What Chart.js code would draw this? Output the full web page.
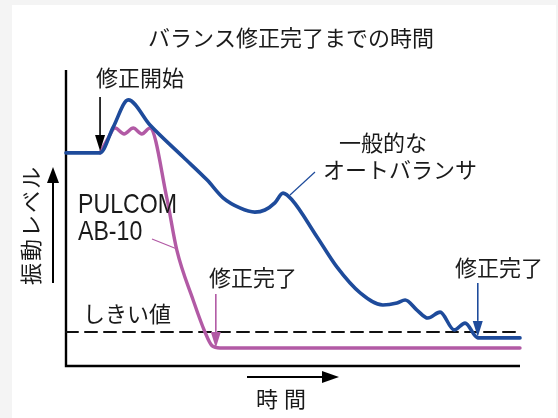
<!DOCTYPE html>
<html>
<head>
<meta charset="utf-8">
<script src="https://cdn.jsdelivr.net/npm/chart.js@4/dist/chart.umd.min.js"></script>
<style>
  html, body { margin: 0; padding: 0; background: #f4f4f4; }
  canvas { display: block; }
</style>
</head>
<body>
<canvas id="balanceChart" width="558" height="418"></canvas>
<script>
// time (0-100) and vibration level (0-100)
const autoTime  = [0, 7.5, 10.4, 13.7, 18.5, 25.8, 31.1, 34.6, 38.3, 41.6, 43.8, 46.0, 47.8, 49.8, 55.3, 59.7, 64.8, 69.8, 72.9, 74.7, 77.3, 79.7, 82.4, 85.5, 87.9, 90.7, 100];
const autoLevel = [72.0, 72.0, 80.7, 89.9, 81.4, 70.6, 62.8, 56.8, 53.4, 52.0, 52.7, 55.1, 58.4, 56.1, 43.6, 33.4, 24.7, 20.6, 21.3, 22.3, 18.9, 16.2, 18.2, 12.2, 14.5, 9.5, 9.5];

const pulcomTime  = [7.5, 9.3, 10.8, 12.8, 14.8, 16.7, 18.5, 22.2, 24.4, 28.0, 30.6, 32.2, 33.9, 100];
const pulcomLevel = [72.0, 77.0, 80.4, 78.4, 80.4, 78.4, 80.4, 56.8, 39.2, 22.3, 11.5, 6.8, 6.1, 6.1];

const thresholdTime  = [0, 100];
const thresholdLevel = [11.5, 11.5];

// moments the arrows point at
const startTime = 7.5;
const pulcomDoneTime = 33.0;
const autoDoneTime = 90.7;

const titleText = 'バランス修正完了までの時間';
const yLabel = '振動レベル';
const xLabel = '時間';

const BLUE = '#1e4b9b';
const MAGENTA = '#b25aa5';
const INK = '#1a1a1a';
const JP = '"Noto Sans CJK JP", "Noto Sans", sans-serif';

function toPoints(xs, ys) {
    return xs.map((x, i) => ({ x: x, y: ys[i] }));
}

function arrow(ctx, x1, y1, x2, y2, color, head, half, width) {
    const a = Math.atan2(y2 - y1, x2 - x1);
    const bx = x2 - head * Math.cos(a), by = y2 - head * Math.sin(a);
    ctx.strokeStyle = color;
    ctx.fillStyle = color;
    ctx.lineWidth = width;
    ctx.beginPath();
    ctx.moveTo(x1, y1);
    ctx.lineTo(bx, by);
    ctx.stroke();
    ctx.beginPath();
    ctx.moveTo(x2, y2);
    ctx.lineTo(bx + half * Math.sin(a), by - half * Math.cos(a));
    ctx.lineTo(bx - half * Math.sin(a), by + half * Math.cos(a));
    ctx.closePath();
    ctx.fill();
}

function text(ctx, str, x, y, align) {
    ctx.textAlign = align || 'left';
    ctx.fillText(str, x, y);
}

const backdrop = {
    id: 'backdrop',
    beforeDraw(chart) {
        const ctx = chart.ctx;
        ctx.save();
        ctx.fillStyle = '#f4f4f4';
        ctx.fillRect(0, 0, chart.width, chart.height);
        ctx.fillStyle = '#ffffff';
        ctx.fillRect(12, 5, 544, chart.height - 5);
        ctx.restore();
    },
    beforeDatasetsDraw(chart) {
        // the two axis lines
        const { ctx, chartArea: a } = chart;
        ctx.save();
        ctx.strokeStyle = '#000';
        ctx.lineWidth = 2.4;
        ctx.beginPath();
        ctx.moveTo(a.left, a.top);
        ctx.lineTo(a.left, a.bottom);
        ctx.lineTo(a.right, a.bottom);
        ctx.stroke();
        ctx.restore();
    }
};

const notes = {
    id: 'notes',
    afterDraw(chart) {
        const { ctx, chartArea: a } = chart;
        const sx = chart.scales.x, sy = chart.scales.y;
        const px = v => sx.getPixelForValue(v);
        const py = v => sy.getPixelForValue(v);
        ctx.save();
        ctx.fillStyle = INK;
        ctx.textBaseline = 'middle';
        ctx.font = '22px ' + JP;

        text(ctx, titleText, 291, 38, 'center');

        // 修正開始
        text(ctx, '修正開始', 96, 78);
        arrow(ctx, px(startTime), 97, px(startTime), py(autoLevel[1]) - 2, '#000', 16, 5, 1.6);

        // 一般的なオートバランサ
        ctx.fillStyle = INK;
        text(ctx, '一般的な', 339, 143);
        text(ctx, 'オートバランサ', 323, 170);
        ctx.strokeStyle = BLUE;
        ctx.lineWidth = 1.2;
        ctx.beginPath();
        ctx.moveTo(290, 195);
        ctx.lineTo(315, 172);
        ctx.stroke();

        // PULCOM AB-10 (narrow sans)
        ctx.fillStyle = INK;
        ctx.font = '28px "Liberation Sans", Arial, sans-serif';
        ctx.textBaseline = 'alphabetic';
        const squeeze = 99 / ctx.measureText('PULCOM').width;
        ctx.save();
        ctx.translate(78, 0);
        ctx.scale(squeeze, 1);
        ctx.fillText('PULCOM', 0, 213);
        ctx.fillText('AB-10', 0, 239.5);
        ctx.restore();
        ctx.strokeStyle = MAGENTA;
        ctx.lineWidth = 1.2;
        ctx.beginPath();
        ctx.moveTo(152, 239);
        ctx.lineTo(177, 249);
        ctx.stroke();

        ctx.font = '22px ' + JP;
        ctx.textBaseline = 'middle';
        ctx.fillStyle = INK;

        // 修正完了 (PULCOM)
        text(ctx, '修正完了', 209, 278);
        arrow(ctx, px(pulcomDoneTime), 294, px(pulcomDoneTime), py(pulcomLevel[12]), MAGENTA, 16, 5, 1.6);

        // 修正完了 (auto balancer)
        ctx.fillStyle = INK;
        text(ctx, '修正完了', 455, 268);
        arrow(ctx, px(autoDoneTime), 283, px(autoDoneTime), py(autoLevel[25]) - 1, BLUE, 16, 5, 1.6);

        // しきい値
        ctx.fillStyle = INK;
        text(ctx, 'しきい値', 83, 314);

        // y axis label + arrow
        ctx.save();
        ctx.translate(30.5, 225);
        ctx.rotate(-Math.PI / 2);
        ctx.letterSpacing = '2px';
        text(ctx, yLabel, 0, 0, 'center');
        ctx.restore();
        arrow(ctx, 53, 283, 53, 167, '#000', 16, 6, 2);

        // x axis label + arrow
        ctx.fillStyle = INK;
        ctx.letterSpacing = '6px';
        text(ctx, xLabel, 284, 399, 'center');
        ctx.letterSpacing = '0px';
        arrow(ctx, 247, 377, 339, 377, '#000', 17, 6, 2);

        ctx.restore();
    }
};

new Chart(document.getElementById('balanceChart'), {
    type: 'line',
    data: {
        datasets: [
            {
                label: '一般的なオートバランサ',
                data: toPoints(autoTime, autoLevel),
                borderColor: BLUE,
                borderWidth: 3.6
            },
            {
                label: 'PULCOM AB-10',
                data: toPoints(pulcomTime, pulcomLevel),
                borderColor: MAGENTA,
                borderWidth: 3.4
            },
            {
                label: 'しきい値',
                data: toPoints(thresholdTime, thresholdLevel),
                borderColor: '#111',
                borderWidth: 2,
                borderDash: [12, 7],
                cubicInterpolationMode: 'default',
                tension: 0
            }
        ]
    },
    options: {
        responsive: false,
        animation: false,
        events: [],
        clip: false,
        layout: { padding: { left: 66, right: 38, top: 70, bottom: 52 } },
        plugins: { legend: { display: false }, tooltip: { enabled: false } },
        elements: {
            point: { radius: 0 },
            line: { cubicInterpolationMode: 'monotone', borderCapStyle: 'round', borderJoinStyle: 'round', fill: false }
        },
        scales: {
            x: { type: 'linear', min: 0, max: 100, display: false },
            y: { type: 'linear', min: 0, max: 100, display: false }
        }
    },
    plugins: [backdrop, notes]
});
</script>
</body>
</html>
